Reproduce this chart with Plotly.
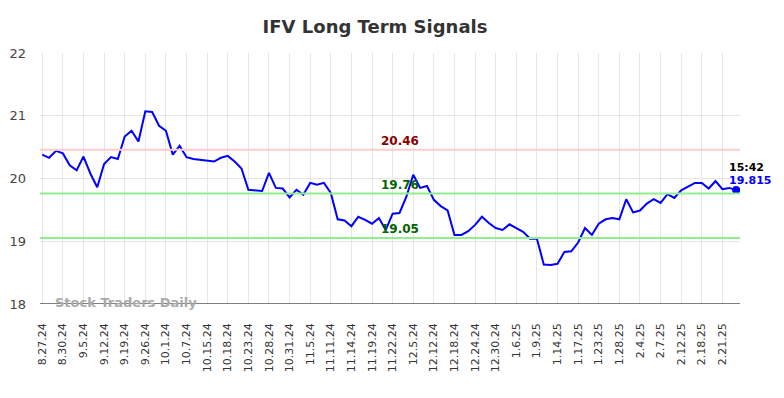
import plotly.graph_objects as go

tick_labels = ["8.27.24", "8.30.24", "9.5.24", "9.12.24", "9.19.24", "9.26.24", "10.1.24",
               "10.7.24", "10.15.24", "10.18.24", "10.23.24", "10.28.24", "10.31.24", "11.5.24",
               "11.11.24", "11.14.24", "11.19.24", "11.22.24", "12.5.24", "12.12.24", "12.18.24",
               "12.24.24", "12.30.24", "1.6.25", "1.9.25", "1.14.25", "1.17.25", "1.23.25",
               "1.28.25", "2.4.25", "2.7.25", "2.12.25", "2.18.25", "2.21.25"]

prices = [20.38, 20.33, 20.44, 20.40, 20.21, 20.13, 20.35, 20.08, 19.86, 20.23,
          20.34, 20.31, 20.67, 20.76, 20.59, 21.07, 21.06, 20.84, 20.76, 20.38,
          20.52, 20.34, 20.31, 20.30, 20.29, 20.27, 20.33, 20.36, 20.27, 20.16,
          19.82, 19.81, 19.80, 20.09, 19.85, 19.84, 19.70, 19.82, 19.74, 19.93,
          19.90, 19.93, 19.77, 19.35, 19.33, 19.24, 19.39, 19.34, 19.28, 19.37,
          19.18, 19.44, 19.45, 19.71, 20.06, 19.85, 19.88, 19.66, 19.56, 19.49,
          19.10, 19.10, 19.16, 19.26, 19.39, 19.29, 19.21, 19.18, 19.27, 19.21,
          19.15, 19.04, 19.04, 18.63, 18.62, 18.64, 18.83, 18.84, 18.98, 19.21,
          19.10, 19.28, 19.35, 19.37, 19.35, 19.67, 19.46, 19.49, 19.60, 19.67,
          19.61, 19.75, 19.69, 19.81, 19.87, 19.93, 19.93, 19.84, 19.96, 19.83,
          19.85, 19.815]

resistance = 20.46
support_upper = 19.76
support_lower = 19.05
last_time = "15:42"

x_idx = list(range(len(prices)))
tick_step = 3
tick_vals = [i * tick_step for i in range(len(tick_labels))]

font_family = "DejaVu Sans, Verdana, sans-serif"

fig = go.Figure()

fig.add_trace(go.Scatter(x=x_idx, y=prices, mode="lines",
                         line=dict(color="#0000ff", width=2), hoverinfo="skip",
                         showlegend=False))
fig.add_trace(go.Scatter(x=[x_idx[-1]], y=[prices[-1]], mode="markers",
                         marker=dict(color="#0000ff", size=8), hoverinfo="skip",
                         showlegend=False, cliponaxis=False))

for lvl, col in [(resistance, "#ffcccc"), (support_upper, "#90ee90"), (support_lower, "#90ee90")]:
    fig.add_shape(type="line", xref="paper", x0=0, x1=1, yref="y", y0=lvl, y1=lvl,
                  line=dict(color=col, width=2), layer="above")

label_x = 52
fig.add_annotation(x=label_x, y=resistance, text=f"<b>{resistance:.2f}</b>", showarrow=False,
                   yshift=9, font=dict(color="#8b0000", size=12, family=font_family))
fig.add_annotation(x=label_x, y=support_upper, text=f"<b>{support_upper:.2f}</b>", showarrow=False,
                   yshift=9, font=dict(color="#006400", size=12, family=font_family))
fig.add_annotation(x=label_x, y=support_lower, text=f"<b>{support_lower:.2f}</b>", showarrow=False,
                   yshift=9, font=dict(color="#006400", size=12, family=font_family))

fig.add_annotation(xref="paper", x=0.982, xanchor="left", y=prices[-1], yshift=23,
                   text=f"<b>{last_time}</b>", showarrow=False,
                   font=dict(color="#000000", size=11, family=font_family))
fig.add_annotation(xref="paper", x=0.982, xanchor="left", y=prices[-1], yshift=10,
                   text=f"<b>{prices[-1]}</b>", showarrow=False,
                   font=dict(color="#0000ff", size=11, family=font_family))

fig.add_annotation(xref="paper", yref="paper", x=0.018, xanchor="left", y=0.0, yanchor="middle",
                   yshift=2,
                   text="<b>Stock Traders Daily</b>", showarrow=False,
                   font=dict(color="#aaaaaa", size=13, family=font_family))

fig.update_layout(
    width=776, height=390,
    margin=dict(l=32, r=44, t=45, b=94, autoexpand=False),
    paper_bgcolor="white", plot_bgcolor="white",
    title=dict(text="<b>IFV Long Term Signals</b>", x=0.473, xanchor="center", y=0.951,
               yanchor="middle", font=dict(size=18, color="#333333", family=font_family)),
    font=dict(family=font_family),
    xaxis=dict(range=[-0.33, 101.56], tickmode="array", tickvals=tick_vals,
               ticktext=tick_labels, tickangle=-90, showgrid=True, gridcolor="#e6e6e6",
               gridwidth=1, zeroline=False, showline=False, ticks="", automargin=False,
               ticklabelstandoff=16,
               tickfont=dict(size=11, color="#333333", family=font_family)),
    yaxis=dict(range=[18, 22], tickvals=[18, 19, 20, 21, 22], showgrid=True,
               gridcolor="#e6e6e6", gridwidth=1, zeroline=False, showline=False, ticks="",
               automargin=False, ticklabelstandoff=13,
               tickfont=dict(size=13, color="#444444", family=font_family)),
)

fig.add_shape(type="line", xref="paper", x0=0, x1=1, yref="y", y0=18, y1=18,
              line=dict(color="#555555", width=1.5), layer="above")

fig.write_html("out.html")
